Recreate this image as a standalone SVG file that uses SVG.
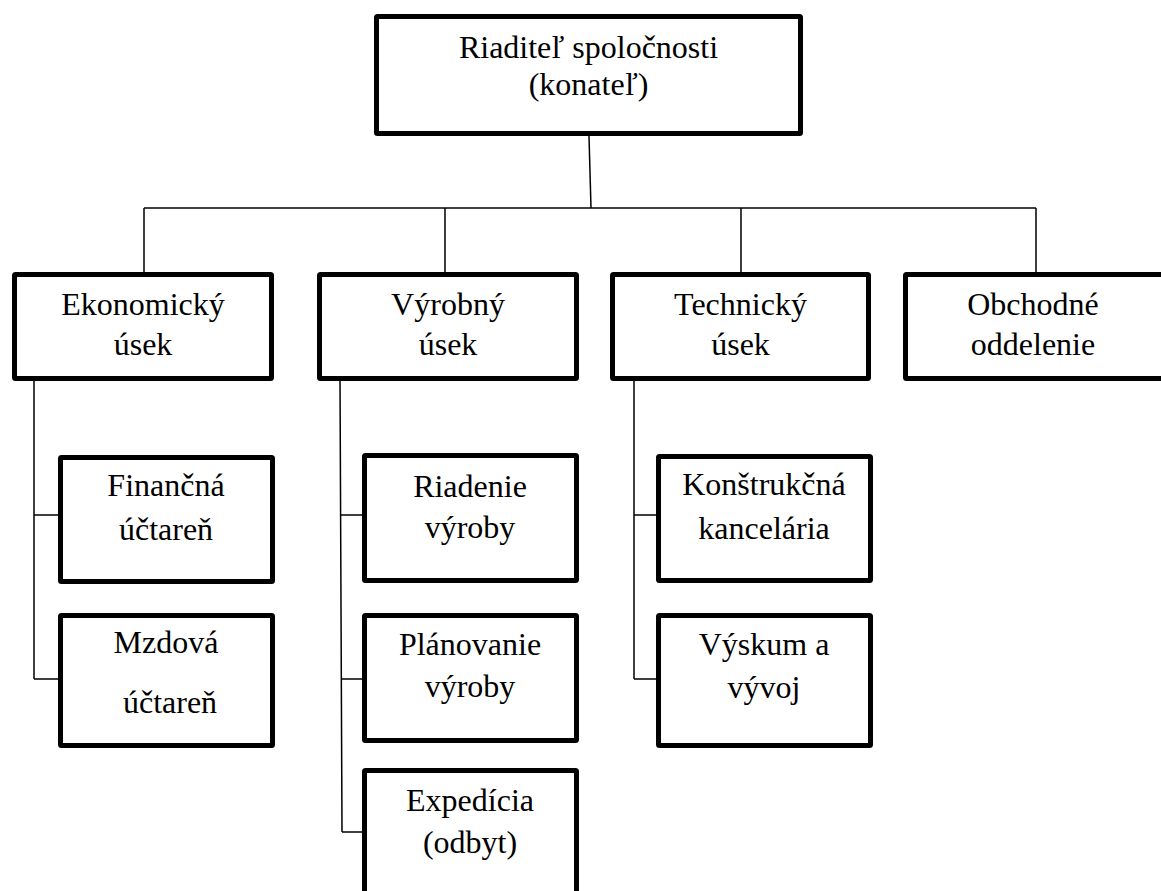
<svg xmlns="http://www.w3.org/2000/svg" width="1161" height="891" viewBox="0 0 1161 891">
<style>
.box{fill:#fff;stroke:#000;stroke-width:5}
.t{font-family:"Liberation Serif","Times New Roman",serif;font-size:32px;fill:#000;text-anchor:middle}
.c{fill:none;stroke:#000;stroke-width:1.5}
</style>
<rect width="1161" height="891" fill="#fff"/>
<g id="connectors">
<path class="c" d="M589 136 L591 208"/>
<path class="c" d="M144 208 H1036"/>
<path class="c" d="M144 208 V274 M445 208 V274 M741 208 V274 M1036 208 V274"/>
<path class="c" d="M34 379 V679 M34 515 H60 M34 679 H60"/>
<path class="c" d="M340 379 L342 832 M340.5 515 H362 M341 679 H362 M342 832 H362"/>
<path class="c" d="M634 379 V679 M634 515 H656 M634 679 H656"/>
</g>
<g id="n-riaditel">
<rect class="box" x="376.5" y="16.5" width="424" height="117" rx="1"/>
<text class="t" x="588.5" y="58">Riaditeľ spoločnosti</text>
<text class="t" x="588.5" y="95">(konateľ)</text>
</g>
<g id="n-ekonomicky">
<rect class="box" x="14.5" y="274.5" width="257" height="104" rx="1"/>
<text class="t" x="143" y="315">Ekonomický</text>
<text class="t" x="143" y="355">úsek</text>
</g>
<g id="n-vyrobny">
<rect class="box" x="319.5" y="274.5" width="257" height="104" rx="1"/>
<text class="t" x="448" y="315">Výrobný</text>
<text class="t" x="448" y="355">úsek</text>
</g>
<g id="n-technicky">
<rect class="box" x="612.5" y="274.5" width="256" height="104" rx="1"/>
<text class="t" x="740.5" y="315">Technický</text>
<text class="t" x="740.5" y="355">úsek</text>
</g>
<g id="n-obchodne">
<rect class="box" x="905.5" y="274.5" width="262" height="104" rx="1"/>
<text class="t" x="1033" y="315">Obchodné</text>
<text class="t" x="1033" y="355">oddelenie</text>
</g>
<g id="n-financna">
<rect class="box" x="60.5" y="457.5" width="212" height="124" rx="1"/>
<text class="t" x="166" y="496">Finančná</text>
<text class="t" x="166" y="540">účtareň</text>
</g>
<g id="n-mzdova">
<rect class="box" x="60.5" y="615.5" width="212" height="130" rx="1"/>
<text class="t" x="166" y="653">Mzdová</text>
<text class="t" x="170" y="713">účtareň</text>
</g>
<g id="n-riadenie">
<rect class="box" x="364.5" y="455.5" width="212" height="125" rx="1"/>
<text class="t" x="470" y="497">Riadenie</text>
<text class="t" x="470" y="538">výroby</text>
</g>
<g id="n-planovanie">
<rect class="box" x="364.5" y="615.5" width="212" height="125" rx="1"/>
<text class="t" x="470" y="655">Plánovanie</text>
<text class="t" x="470" y="697">výroby</text>
</g>
<g id="n-expedicia">
<rect class="box" x="364.5" y="770.5" width="212" height="130" rx="1"/>
<text class="t" x="470" y="811">Expedícia</text>
<text class="t" x="470" y="853">(odbyt)</text>
</g>
<g id="n-konstrukcna">
<rect class="box" x="658.5" y="456.5" width="212" height="124" rx="1"/>
<text class="t" x="764" y="495">Konštrukčná</text>
<text class="t" x="764" y="539">kancelária</text>
</g>
<g id="n-vyskum">
<rect class="box" x="658.5" y="615.5" width="212" height="130" rx="1"/>
<text class="t" x="764" y="655">Výskum a</text>
<text class="t" x="764" y="698">vývoj</text>
</g>
</svg>
